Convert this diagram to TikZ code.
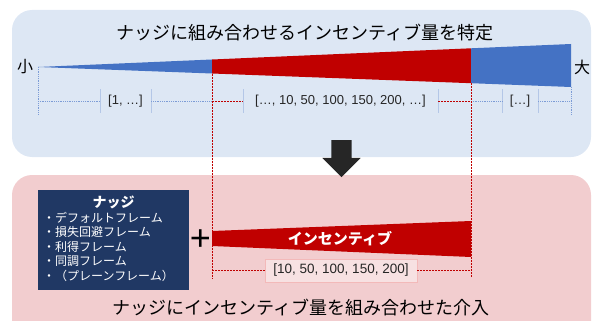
\documentclass[tikz,border=0pt]{standalone}
\usepackage{fontspec}
\setmainfont{Liberation Sans}
\newfontfamily\jp{Noto Sans CJK JP}
\usetikzlibrary{shapes.arrows}
\definecolor{topbg}{HTML}{DDE7F4}
\definecolor{botbg}{HTML}{F2CDCF}
\definecolor{wblue}{HTML}{4472C4}
\definecolor{wred}{HTML}{C00000}
\definecolor{navy}{HTML}{203864}
\definecolor{dblue}{HTML}{8FAADC}
\definecolor{tickc}{HTML}{B4C7E7}
\definecolor{dred}{HTML}{E05050}
\definecolor{arrowc}{HTML}{262626}
\begin{document}
\begin{tikzpicture}[x=1pt,y=-1pt,
  panel/.style={rounded corners=20pt},
  jptext/.style={font=\jp\fontsize{18}{22}\selectfont, text=black, inner sep=0pt},
  numlbl/.style={font=\fontsize{13}{15}\selectfont, inner sep=0pt, text=black!85},
  bluedot/.style={draw=wblue!70, densely dotted, line width=0.8pt},
  reddot/.style={draw=wred, dash pattern=on 2pt off 1pt, line width=0.6pt},
  tickline/.style={draw=tickc, line width=0.6pt}
]
\useasboundingbox (0,0) rectangle (594,321);
\clip (0,0) rectangle (594,321);
% panels
\fill[topbg, panel] (12,10) rectangle (591,157);
\fill[botbg, panel] (12,175) rectangle (591,360);

% title
\node[jptext] (title1) at (305,33) {ナッジに組み合わせるインセンティブ量を特定};

% top wedge
\coordinate (apex) at (38,67);
\coordinate (b1t) at (212,59.5);
\coordinate (b1b) at (212,73.5);
\coordinate (b2t) at (471,48.3);
\coordinate (b2b) at (471,83.2);
\coordinate (b3t) at (571,44);
\coordinate (b3b) at (571,87);
\fill[wblue] (apex) -- (b1t) -- (b1b) -- cycle;
\fill[wred] (b1t) -- (b2t) -- (b2b) -- (b1b) -- cycle;
\fill[wblue] (b2t) -- (b3t) -- (b3b) -- (b2b) -- cycle;

\node[jptext, font=\jp\fontsize{16}{18}\selectfont] (small) at (25,67) {小};
\node[jptext, font=\jp\fontsize{16}{18}\selectfont] (large) at (582,67) {大};

% dimension row
\coordinate (d0) at (38,101);
\coordinate (d0b) at (38,115);
\coordinate (d3) at (571,101);
\coordinate (d3b) at (571,115);
\coordinate (d1) at (212,101);
\coordinate (d2) at (471,101);
\node[numlbl, minimum width=51pt, minimum height=23pt] (l1) at (125.5,101) {[1, …]};
\node[numlbl, minimum width=195pt, minimum height=23pt] (l2) at (340.5,101) {[…, 10, 50, 100, 150, 200, …]};
\node[numlbl, minimum width=36pt, minimum height=23pt] (l3) at (520,101) {[…]};
\foreach \n in {l1,l2,l3}{
  \draw[tickline] (\n.north west) -- (\n.south west);
  \draw[tickline] (\n.north east) -- (\n.south east);
}
\draw[bluedot] (apex) -- (d0b);
\draw[bluedot] (b3b) -- (d3b);
\draw[bluedot] (d0) -- (l1.west);
\draw[bluedot] (l1.east) -- (d1);
\draw[reddot] (d1) -- (l2.west);
\draw[reddot] (l2.east) -- (d2);
\draw[bluedot] (d2) -- (l3.west);
\draw[bluedot] (l3.east) -- (d3);

% down arrow
\node[single arrow, shape border rotate=270, fill=arrowc, minimum width=38pt,
  single arrow head extend=9pt, single arrow tip angle=90, single arrow head indent=0pt,
  minimum height=37pt, inner sep=0pt, text width=20pt] (down) at (341.5,153.5) {};

% vertical red guides
\coordinate (g1) at (212,278);
\coordinate (g2) at (471,278);
\draw[reddot] (b1b) -- (g1);
\draw[reddot] (b2b) -- (g2);

% nudge box
\node[fill=navy, minimum width=151pt, minimum height=100pt, inner sep=0pt] (nudge) at (113.5,240) {};
\node[font=\jp\bfseries\fontsize{14}{16}\selectfont, text=white, inner sep=0pt] (ntitle) at (113.5,202) {ナッジ};
\node[font=\jp\fontsize{12}{14.5}\selectfont, text=white, inner sep=0pt, anchor=north west, align=left] (nitems) at (43,212)
 {・デフォルトフレーム\\・損失回避フレーム\\・利得フレーム\\・同調フレーム\\・（プレーンフレーム）};

% plus
\node[font=\fontsize{36}{36}\selectfont, inner sep=0pt] (plus) at (200.5,240) {+};

% bottom wedge
\coordinate (w1t) at (212,231);
\coordinate (w2t) at (471,221);
\coordinate (w2b) at (471,257);
\coordinate (w1b) at (212,246);
\fill[wred] (w1t) -- (w2t) -- (w2b) -- (w1b) -- cycle;
\node[font=\jp\bfseries\fontsize{15}{17}\selectfont, text=white, inner sep=0pt] (incent) at (340,239) {インセンティブ};

% bottom label
\node[numlbl, font=\fontsize{13.5}{15}\selectfont, draw=dred!40, fill=botbg!60!white, minimum width=152pt, minimum height=23pt, line width=0.6pt] (l4) at (341,270.5) {[10, 50, 100, 150, 200]};
\coordinate (g1m) at (212,270.5);
\coordinate (g2m) at (471,270.5);
\draw[reddot] (g1m) -- (l4.west);
\draw[reddot] (l4.east) -- (g2m);

% bottom title
\node[jptext] (title2) at (301,308) {ナッジにインセンティブ量を組み合わせた介入};
\end{tikzpicture}
\end{document}
